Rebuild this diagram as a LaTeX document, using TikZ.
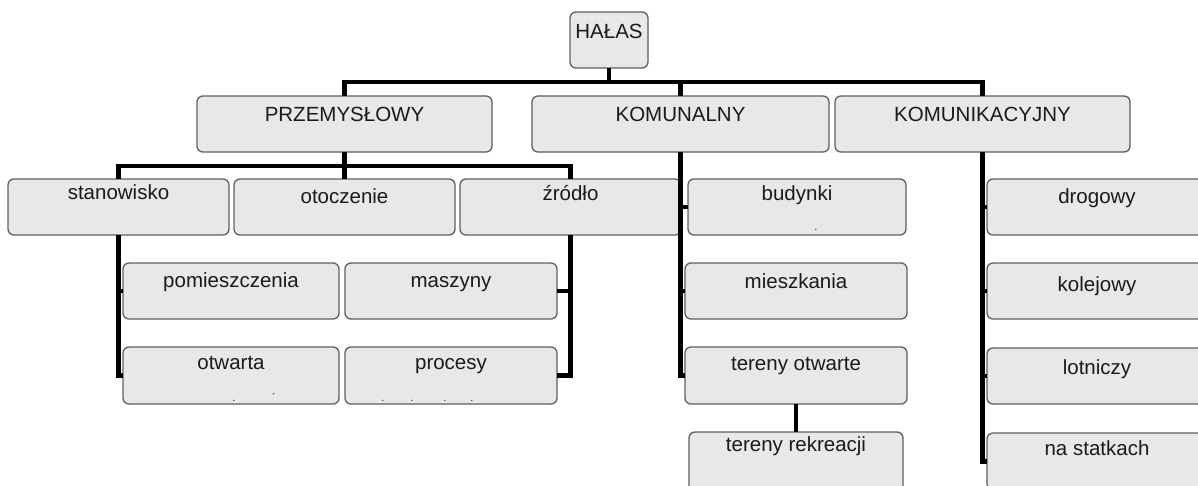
\documentclass[tikz,border=0pt]{standalone}
\usepackage{fontspec}
\setmainfont{Liberation Sans}
\usetikzlibrary{calc}
\definecolor{boxfill}{HTML}{E8E8E8}
\definecolor{boxborder}{HTML}{5F5F5F}
\definecolor{txt}{HTML}{1A1A1A}
\tikzset{
  box/.style={draw=boxborder, fill=boxfill, rounded corners=6pt, line width=1.3pt, inner sep=0pt, outer sep=0pt},
  lbl/.style={font=\fontsize{20.5}{24}\selectfont, text=txt, inner sep=0pt, anchor=base},
  speck/.style={font=\fontsize{11}{12}\selectfont, text=txt, inner sep=0pt, anchor=base},
  conn/.style={line width=4.5pt, draw=black, line join=miter}
}
% #1 name, #2 x1, #3 y1, #4 x2, #5 y2, #6 baseline y, #7 text
\newcommand\mybox[7]{%
  \node[box, minimum width={#4-#2}, minimum height={#5-#3}, anchor=north west] (#1) at (#2,#3) {};
  \node[lbl] (#1-t) at ({(#2+#4)/2},#6) {#7};
}
\begin{document}
\begin{tikzpicture}[x=1pt,y=-1pt]
\useasboundingbox (0,0) rectangle (1198,485);
% level 0 and 1
\mybox{halas}{570}{12}{648}{68}{38}{HAŁAS}
\mybox{prz}{197}{96}{492}{152}{121}{PRZEMYSŁOWY}
\mybox{kom}{532}{96}{829}{152}{121}{KOMUNALNY}
\mybox{kmk}{835}{96}{1130}{152}{121}{KOMUNIKACYJNY}
% level 2
\mybox{sta}{8}{179}{229}{235}{199}{stanowisko}
\mybox{oto}{234}{179}{455}{235}{203}{otoczenie}
\mybox{zro}{460}{179}{681}{235}{200}{źródło}
\mybox{bud}{688}{179}{906}{235}{200}{budynki}
\mybox{dro}{987}{179}{1207}{235}{203}{drogowy}
% level 3
\mybox{pom}{123}{263}{339}{319}{287}{pomieszczenia}
\mybox{mas}{345}{263}{557}{319}{287}{maszyny}
\mybox{mie}{685}{263}{907}{319}{288}{mieszkania}
\mybox{kol}{987}{263}{1207}{319}{291}{kolejowy}
% level 4
\mybox{otw}{123}{347}{339}{404}{369}{otwarta}
\mybox{pro}{345}{347}{557}{404}{369}{procesy}
\mybox{ter}{685}{347}{907}{404}{370}{tereny otwarte}
\mybox{lot}{987}{348}{1207}{404}{374}{lotniczy}
% level 5
\mybox{rek}{689}{432}{903}{492}{451}{tereny rekreacji}
\mybox{nas}{987}{433}{1207}{490}{455}{na statkach}
% specks of clipped text
\node[speck] (s1) at (816,230) {.};
\node[speck] (s2) at (234,401) {.};
\node[speck] (s3) at (274,401) {´};
\node[speck] (s4) at (383,401) {.};
\node[speck] (s5) at (412,401) {.};
\node[speck] (s6) at (445,401) {.};
\node[speck] (s7) at (472,401) {.};
% connectors
\draw[conn] (halas.south) -- ++(0,14) coordinate (b0);
\draw[conn] (prz.north) |- (b0) -| (kmk.north);
\draw[conn] (b0) -| (kom.north);
\draw[conn] (prz.south) -- ++(0,14) coordinate (b1);
\draw[conn] (sta.north) |- (b1) -| (zro.north);
\draw[conn] (b1) -| (oto.north);
\draw[conn] (sta.south) -- (sta.south |- otw.west) -- (otw.west);
\draw[conn] (sta.south |- pom.west) -- (pom.west);
\draw[conn] (zro.south) -- (zro.south |- pro.east) -- (pro.east);
\draw[conn] (zro.south |- mas.east) -- (mas.east);
\draw[conn] (kom.south) -- (kom.south |- ter.west) -- (ter.west);
\draw[conn] (kom.south |- bud.west) -- (bud.west);
\draw[conn] (kom.south |- mie.west) -- (mie.west);
\draw[conn] (kmk.south) -- (kmk.south |- nas.west) -- (nas.west);
\draw[conn] (kmk.south |- dro.west) -- (dro.west);
\draw[conn] (kmk.south |- kol.west) -- (kol.west);
\draw[conn] (kmk.south |- lot.west) -- (lot.west);
\draw[conn] (ter.south) -- (rek.north);
\end{tikzpicture}
\end{document}
